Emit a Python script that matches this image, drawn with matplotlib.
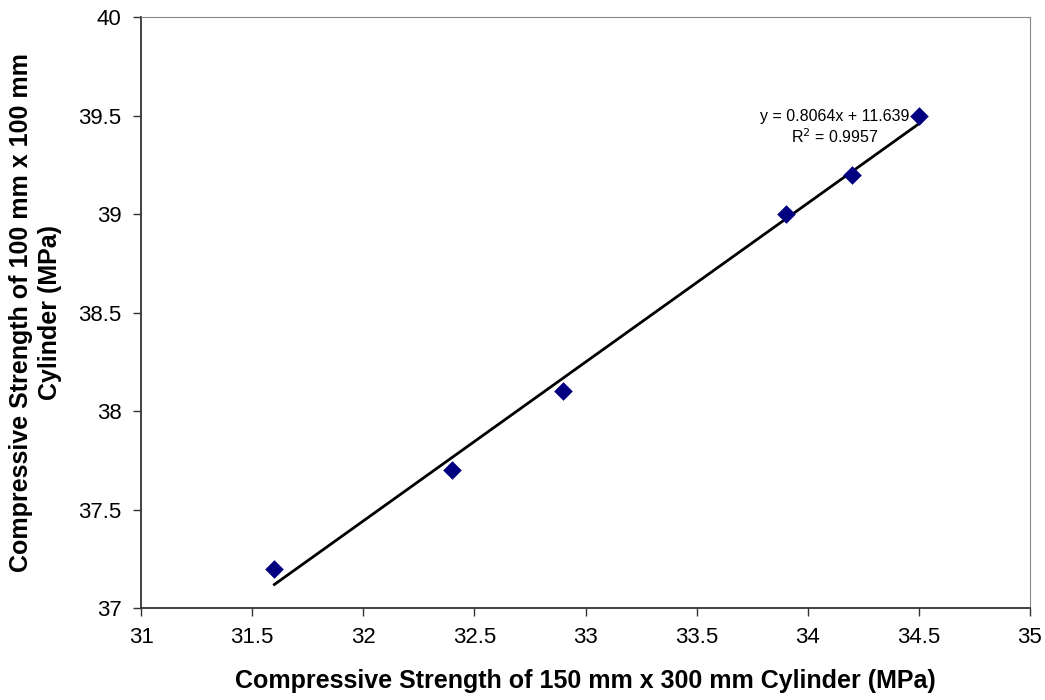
import numpy as np
import matplotlib
matplotlib.use('Agg')
import matplotlib.pyplot as plt
plt.rc('font', family=['Liberation Sans', 'DejaVu Sans'])

# Cylinder strength pairs (MPa)
strength_150x300 = [31.6, 32.4, 32.9, 33.9, 34.2, 34.5]
strength_100x100 = [37.2, 37.7, 38.1, 39.0, 39.2, 39.5]

x = np.array(strength_150x300)
y = np.array(strength_100x100)
slope, intercept = np.polyfit(x, y, 1)
r2 = np.corrcoef(x, y)[0, 1] ** 2

fig = plt.figure(figsize=(10.45, 7.0), dpi=100)
ax1 = fig.add_axes([0.135, 0.1314, 0.8506, 0.8443])

xfit = np.array([x.min(), x.max()])
ax1.plot(xfit, slope * xfit + intercept, color='black', linewidth=2, zorder=2)
ax1.scatter(x, y, marker='D', s=90, color='#000080', zorder=3, linewidths=0)

# trendline equation, centred above the last points
ax1.text(34.12, 39.44, 'y = %.4fx + %.3f\nR$^2$ = %.4f' % (slope, intercept, r2),
         ha='center', va='center', multialignment='center', fontsize=11.5,
         linespacing=1.25)

ax1.set_xlim(31, 35)
ax1.set_ylim(37, 40)
ax1.set_xticks(np.arange(31, 35.01, 0.5))
ax1.set_yticks(np.arange(37, 40.01, 0.5))
ax1.set_xticklabels(['31', '31.5', '32', '32.5', '33', '33.5', '34', '34.5', '35'])
ax1.set_yticklabels(['37', '37.5', '38', '38.5', '39', '39.5', '40'])
ax1.tick_params(direction='out', length=6, width=1, labelsize=16, colors='#333333',
                labelcolor='black', pad=8)

for side in ['left', 'bottom']:
    ax1.spines[side].set_color('#333333')
    ax1.spines[side].set_linewidth(1.3)
for side in ['top', 'right']:
    ax1.spines[side].set_color('#888888')
    ax1.spines[side].set_linewidth(0.8)

ax1.set_xlabel('Compressive Strength of 150 mm x 300 mm Cylinder (MPa)',
               fontsize=18, fontweight='bold', labelpad=15)
ax1.set_ylabel('Compressive Strength of 100 mm x 100 mm\nCylinder (MPa)',
               fontsize=18, fontweight='bold', labelpad=12, linespacing=1.25)

plt.savefig('out.png', dpi=100)
plt.close()
